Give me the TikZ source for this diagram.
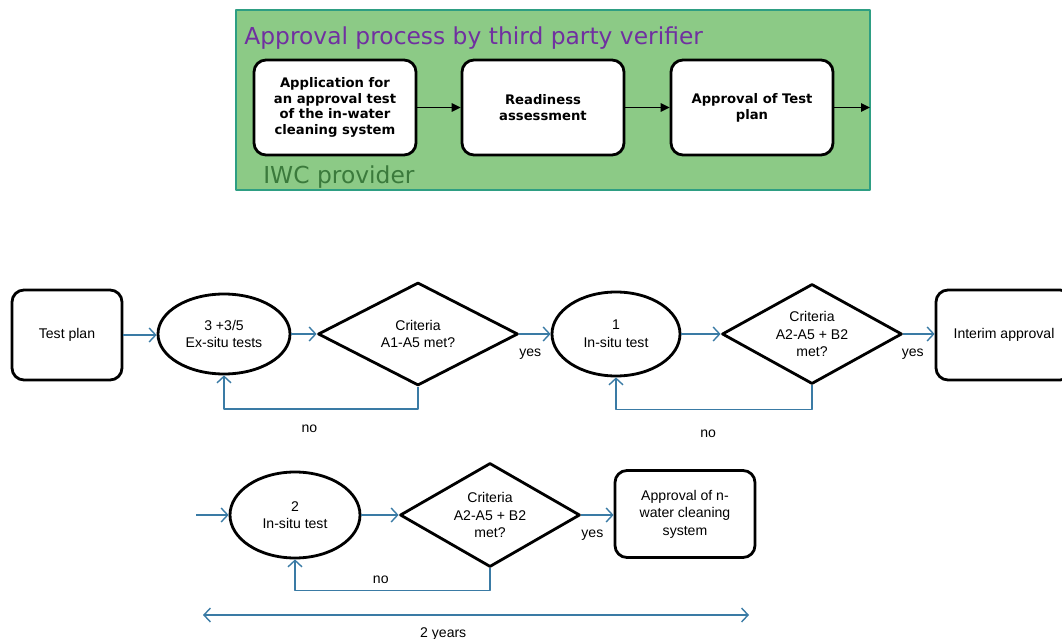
\documentclass[tikz,border=0pt]{standalone}
\usepackage{fontspec}
\setmainfont{Liberation Sans}
\newfontfamily\headfont{DejaVu Sans}
\usetikzlibrary{shapes.geometric,arrows.meta}
\definecolor{boxgreen}{HTML}{8CCA86}
\definecolor{edgegreen}{HTML}{2E9E83}
\definecolor{titlepurple}{HTML}{7030A0}
\definecolor{provgreen}{HTML}{3B7A3C}
\definecolor{flowblue}{HTML}{3A7BA5}
\begin{document}
\begin{tikzpicture}[x=0.2mm, y=-0.2mm, line join=round,
  stage/.style={draw, line width=1.6pt, rounded corners=2.4mm, fill=white, align=center,
    font=\headfont\bfseries\fontsize{7.5}{9}\selectfont, minimum width=3.24cm, minimum height=1.9cm, inner sep=1pt},
  plainbox/.style={draw, line width=1.6pt, rounded corners=2.4mm, align=center, inner sep=1pt,
    font=\fontsize{8}{10}\selectfont},
  testoval/.style={ellipse, draw, line width=1.6pt, align=center, inner sep=0pt, font=\fontsize{8}{10}\selectfont},
  check/.style={diamond, aspect=1.8, draw, line width=1.6pt, align=center, inner sep=0pt, font=\fontsize{8}{10}\selectfont},
  flow/.style={draw=flowblue, line width=0.8pt, -{Straight Barb[length=1.3mm,width=2.8mm]}},
  push/.style={line width=0.9pt, -{Triangle[length=1.8mm,width=1.7mm]}},
  lbl/.style={font=\fontsize{8}{10}\selectfont, inner sep=1pt}]
  \useasboundingbox (0,0) rectangle (1062,639);
  % the verifier's process, on the green panel
  \filldraw[fill=boxgreen, draw=edgegreen, line width=0.6pt] (236,10) rectangle (870,190);
  \node[anchor=west, inner sep=0pt, text=titlepurple, font=\headfont\fontsize{13.3}{16}\selectfont] (title) at (244,38) {Approval process by third party verifier};
  \node[anchor=west, inner sep=0pt, text=provgreen, font=\headfont\fontsize{13.3}{16}\selectfont] (prov) at (263,177) {IWC provider};
  \node[stage] (apply) at (335,107.5) {Application for\\an approval test\\of the in-water\\cleaning system};
  \node[stage] (ready) at (543,107.5) {Readiness\\assessment};
  \node[stage] (plan) at (752,107.5) {Approval of Test\\plan};
  \coordinate (out) at (870,107.5);
  \draw[push] (apply) -- (ready);
  \draw[push] (ready) -- (plan);
  \draw[push] (plan) -- (out);
  % first row: ex-situ and first in-situ test
  \node[plainbox, minimum width=2.2cm, minimum height=1.8cm] (testplan) at (67,335) {Test plan};
  \node[testoval, minimum width=2.64cm, minimum height=1.6cm] (exsitu) at (224,334) {3 +3/5\\Ex-situ tests};
  \node[check, minimum width=4cm, minimum height=2.06cm] (crit1) at (418,334) {Criteria\\A1-A5 met?};
  \node[testoval, minimum width=2.56cm, minimum height=1.68cm] (insitu1) at (616,334) {1\\In-situ test};
  \node[check, minimum width=3.6cm, minimum height=2cm] (crit2) at (812,334) {Criteria\\A2-A5 + B2\\met?};
  \node[plainbox, minimum width=2.72cm, minimum height=1.8cm] (interim) at (1004,335) {Interim approval};
  \draw[flow] (testplan.east) -- (exsitu.west |- testplan.east);
  \draw[flow] (exsitu.east) -- (crit1.west);
  \draw[flow] (crit1.east) -- node[lbl, pos=0.35, below=7pt] (yes1) {yes} (insitu1.west);
  \draw[flow] (insitu1.east) -- (crit2.west);
  \draw[flow] (crit2.east) -- node[lbl, pos=0.3, below=7pt] (yes2) {yes} (interim.west |- crit2.east);
  \draw[flow] (crit1.south) -- ++(0,22) -| node[lbl, pos=0.28, below=7.5pt] (no1) {no} (exsitu.south);
  \draw[flow] (crit2.south) -- ++(0,24) -| node[lbl, pos=0.265, below=10.5pt] (no2) {no} (insitu1.south);
  % second row: second in-situ test and final approval
  \coordinate (in2) at (196,515);
  \node[testoval, minimum width=2.6cm, minimum height=1.72cm] (insitu2) at (295,515) {2\\In-situ test};
  \node[check, minimum width=3.6cm, minimum height=2.08cm] (crit3) at (490,515) {Criteria\\A2-A5 + B2\\met?};
  \node[plainbox, minimum width=2.8cm, minimum height=1.74cm] (final) at (685,514) {Approval of n-\\water cleaning\\system};
  \draw[flow] (in2) -- (insitu2.west);
  \draw[flow] (insitu2.east) -- (crit3.west);
  \draw[flow] (crit3.east) -- node[lbl, pos=0.34, below=7pt] (yes3) {yes} (final.west |- crit3.east);
  \draw[flow] (crit3.south) -- ++(0,22) -| node[lbl, pos=0.28, above=2.5pt] (no3) {no} (insitu2.south);
  % the two years span
  \coordinate (spanl) at (203,615);
  \coordinate (spanr) at (749,615);
  \draw[flow, {Straight Barb[length=1.3mm,width=2.8mm]}-{Straight Barb[length=1.3mm,width=2.8mm]}] (spanl) -- node[lbl, pos=0.44, below=6pt] (yrs) {2 years} (spanr);
\end{tikzpicture}
\end{document}
